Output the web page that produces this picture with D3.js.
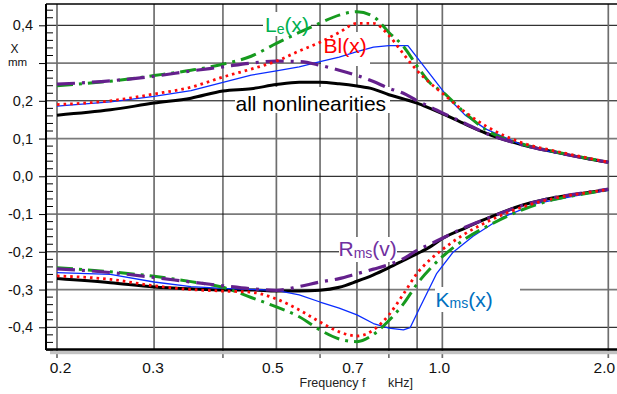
<!DOCTYPE html>
<html><head><meta charset="utf-8">
<script src="https://cdn.jsdelivr.net/npm/d3@7"></script>
<style>
html,body{margin:0;padding:0;background:#fff;}
svg{display:block;font-family:"Liberation Sans",Arial,sans-serif;}
</style></head><body>
<svg id="chart" width="617" height="394"></svg>
<script>
// Excursion X (mm) versus frequency (kHz); each model has a positive and a negative envelope
const freqs = [0.2,0.25,0.3,0.35,0.4,0.45,0.5,0.55,0.6,0.65,0.7,0.75,0.8,0.85,0.9,0.95,1.0,1.1,1.2,1.4,1.6,1.8,2.0];

const allUpper = [0.162,0.176,0.194,0.207,0.226,0.232,0.243,0.249,0.249,0.245,0.239,0.231,0.216,0.205,0.194,0.180,0.166,0.138,0.114,0.083,0.064,0.049,0.037];
const allLower = [-0.271,-0.282,-0.293,-0.298,-0.301,-0.301,-0.304,-0.304,-0.302,-0.294,-0.278,-0.261,-0.242,-0.223,-0.205,-0.187,-0.165,-0.137,-0.113,-0.076,-0.056,-0.045,-0.035];

const rmsUpper = [0.244,0.253,0.265,0.279,0.290,0.300,0.305,0.304,0.294,0.281,0.267,0.251,0.233,0.220,0.200,0.184,0.168,0.140,0.114,0.083,0.064,0.049,0.037];
const rmsLower = [-0.245,-0.255,-0.268,-0.280,-0.290,-0.298,-0.302,-0.292,-0.280,-0.271,-0.258,-0.246,-0.234,-0.218,-0.196,-0.180,-0.164,-0.135,-0.113,-0.077,-0.056,-0.044,-0.034];

const leUpper = [0.240,0.252,0.267,0.281,0.297,0.318,0.352,0.381,0.406,0.427,0.436,0.423,0.381,0.344,0.292,0.247,0.224,0.167,0.123,0.085,0.065,0.050,0.037];
const leLower = [-0.242,-0.253,-0.265,-0.279,-0.294,-0.321,-0.346,-0.372,-0.407,-0.431,-0.438,-0.419,-0.382,-0.338,-0.285,-0.245,-0.213,-0.166,-0.134,-0.088,-0.061,-0.047,-0.036];

const blUpper = [0.190,0.200,0.218,0.236,0.263,0.284,0.305,0.332,0.355,0.381,0.405,0.405,0.373,0.324,0.280,0.247,0.220,0.170,0.133,0.088,0.067,0.051,0.038];
const blLower = [-0.264,-0.273,-0.290,-0.300,-0.304,-0.307,-0.325,-0.354,-0.386,-0.412,-0.423,-0.407,-0.367,-0.312,-0.257,-0.221,-0.194,-0.152,-0.122,-0.081,-0.058,-0.045,-0.035];

// stiffness curve is drawn as a polyline on its own frequency points
const kmsUpperF = [0.2,0.25,0.3,0.35,0.4,0.45,0.5,0.55,0.6,0.65,0.7,0.75,0.8,0.866,1.033,1.1,1.2,1.4,1.6,1.8,2.0];
const kmsUpper  = [0.186,0.197,0.212,0.227,0.249,0.268,0.279,0.290,0.304,0.316,0.330,0.342,0.346,0.346,0.202,0.162,0.125,0.082,0.063,0.048,0.037];
const kmsLowerF = [0.2,0.25,0.3,0.35,0.4,0.5,0.55,0.6,0.65,0.7,0.75,0.8,0.85,0.874,0.911,0.977,1.046,1.137,1.288,1.485,1.8,2.0];
const kmsLower  = [-0.255,-0.260,-0.280,-0.292,-0.297,-0.302,-0.314,-0.333,-0.349,-0.367,-0.390,-0.402,-0.407,-0.401,-0.347,-0.257,-0.201,-0.159,-0.108,-0.072,-0.048,-0.037];

const yTicks = [-0.4,-0.3,-0.2,-0.1,0,0.1,0.2,0.3,0.4];
const xGridTicks = [0.2,0.3,0.4,0.5,0.6,0.7,0.8,0.9,1.0,2.0];
const xLabelTicks = [0.2,0.3,0.5,0.7,1.0,2.0];
const xLongTicks = [0.2,0.4,0.6,0.8,1.0,2.0];

const L = 46, T = 4, R = 617, B = 350;
const svg = d3.select("#chart");
const x = d3.scaleLog().domain([0.2, 2]).range([57, 608.3]);
const y = d3.scaleLinear().domain([-0.4, 0.4]).range([327.3, 25.3]);

const dark = v => Math.round(Math.abs(v) * 10) % 2 === 0;
const darkX = v => [0.4, 0.6, 0.8].includes(v);

// horizontal grid
svg.append("g").selectAll("line").data(yTicks).join("line")
  .attr("x1", L).attr("x2", R)
  .attr("y1", d => y(d)).attr("y2", d => y(d))
  .attr("stroke", d => dark(d) ? "#000" : "#7a7a7a")
  .attr("stroke-width", d => dark(d) ? 1 : 1.7);

// vertical grid (some ticks reach below the axis)
svg.append("g").selectAll("line").data(xGridTicks).join("line")
  .attr("x1", d => x(d)).attr("x2", d => x(d))
  .attr("y1", T).attr("y2", d => xLongTicks.includes(d) ? B + 8 : B)
  .attr("stroke", d => darkX(d) ? "#111" : "#6e6e6e")
  .attr("stroke-width", d => darkX(d) ? 1 : 1.7);

// frame
svg.append("rect").attr("x", 50).attr("y", B + 0.8).attr("width", R - 50).attr("height", 3.4).attr("fill", "#c2c2c2");
svg.append("line").attr("x1", L).attr("x2", R).attr("y1", T).attr("y2", T).attr("stroke", "#000").attr("stroke-width", 1.3);
svg.append("line").attr("x1", L).attr("x2", R).attr("y1", B - 0.5).attr("y2", B - 0.5).attr("stroke", "#000").attr("stroke-width", 2.4);
svg.append("line").attr("x1", L).attr("x2", L).attr("y1", T).attr("y2", B).attr("stroke", "#000").attr("stroke-width", 2);

// minor ticks on the value axis
const minor = d3.range(-46, 46, 2).filter(v => v % 10 !== 0).map(v => v / 100);
svg.append("g").selectAll("line").data(minor).join("line")
  .attr("x1", L).attr("x2", L + 7)
  .attr("y1", d => y(d)).attr("y2", d => y(d))
  .attr("stroke", "#000").attr("stroke-width", 1);

// value axis
const fmtY = d => d === 0.3 ? "" : (d < 0 ? "-" : "") + Math.abs(d).toFixed(1).replace(".", ",");
const gy = svg.append("g").attr("transform", `translate(${L},0)`)
  .call(d3.axisLeft(y).tickValues(yTicks).tickSize(7).tickPadding(6).tickFormat(fmtY));
gy.select(".domain").remove();
gy.selectAll(".tick line").attr("stroke", "#000").attr("stroke-width", 1);
gy.selectAll(".tick text").attr("font-size", 14.5).attr("fill", "#111")
  .attr("font-family", "Liberation Sans, Arial, sans-serif");

// frequency axis; labels sit slightly off their ticks and the last one stays inside the page
const labelShift = {0.2: 3, 0.3: -1.5, 0.5: -4, 0.7: -4.5, 1: -3.5, 2: -4.5};
const gx = svg.append("g").attr("transform", `translate(0,${B})`)
  .call(d3.axisBottom(x).tickValues(xLabelTicks).tickSize(0).tickPadding(11.5).tickFormat(d3.format(".1f")));
gx.select(".domain").remove();
gx.selectAll(".tick text").attr("font-size", 15.5).attr("fill", "#111")
  .attr("dx", d => labelShift[d] || 0)
  .attr("font-family", "Liberation Sans, Arial, sans-serif");

// axis titles
svg.append("text").attr("x", 14.5).attr("y", 53.3).attr("text-anchor", "middle")
  .attr("font-size", 12).attr("fill", "#111").text("X");
svg.append("text").attr("x", 17.5).attr("y", 65.7).attr("text-anchor", "middle")
  .attr("font-size", 11.5).attr("fill", "#111").text("mm");
svg.append("text").attr("x", 299.5).attr("y", 387).attr("font-size", 12.5).attr("fill", "#222").text("Frequency f");
svg.append("text").attr("x", 388).attr("y", 387).attr("font-size", 12.5).attr("fill", "#222").text("kHz]");

// label backgrounds
const boxes = [[263, 12, 48, 24], [321, 32, 49, 34], [235, 87, 155, 26], [339, 237, 58, 25], [435, 287, 85, 25]];
svg.append("g").selectAll("rect").data(boxes).join("rect")
  .attr("x", d => d[0]).attr("y", d => d[1]).attr("width", d => d[2]).attr("height", d => d[3])
  .attr("fill", "#fff");

// curves
const series = [
  {f: freqs, up: allUpper, lo: allLower, color: "#000", width: 3, dash: null, curve: d3.curveMonotoneX},
  {f: kmsUpperF, up: kmsUpper, fl: kmsLowerF, lo: kmsLower, color: "#0a2cff", width: 1.3, dash: null, curve: d3.curveLinear},
  {f: freqs, up: leUpper, lo: leLower, color: "#169a1e", width: 3, dash: "16,6,3,6", curve: d3.curveMonotoneX},
  {f: freqs, up: rmsUpper, lo: rmsLower, color: "#64208c", width: 3.2, dash: "18,7,3,7", curve: d3.curveMonotoneX},
  {f: freqs, up: blUpper, lo: blLower, color: "#ff0a0a", width: 2.8, dash: "2.6,4", curve: d3.curveMonotoneX}
];
const gc = svg.append("g");
series.forEach(s => {
  const line = d3.line().x(d => x(d[0])).y(d => y(d[1])).curve(s.curve);
  [d3.zip(s.f, s.up), d3.zip(s.fl || s.f, s.lo)].forEach(pts => {
    gc.append("path").attr("d", line(pts)).attr("fill", "none")
      .attr("stroke", s.color).attr("stroke-width", s.width)
      .attr("stroke-dasharray", s.dash).attr("stroke-linejoin", "round");
  });
});

// curve labels
function label(xp, yp, color, main, sub, tail, size) {
  const t = svg.append("text").attr("x", xp).attr("y", yp).attr("fill", color).attr("font-size", size || 21);
  t.append("tspan").text(main);
  if (sub) {
    t.append("tspan").attr("font-size", 14).attr("dy", 1.5).text(sub);
    t.append("tspan").attr("dy", -1.5).text(tail);
  }
}
label(265, 32, "#00b050", "L", "e", "(x)");
label(323.5, 53, "#ff0000", "Bl(x)");
label(235.5, 111, "#000", "all nonlinearities");
label(338.5, 256, "#7030a0", "R", "ms", "(v)");
label(435.5, 306.7, "#0070c0", "K", "ms", "(x)");
</script>
</body></html>
